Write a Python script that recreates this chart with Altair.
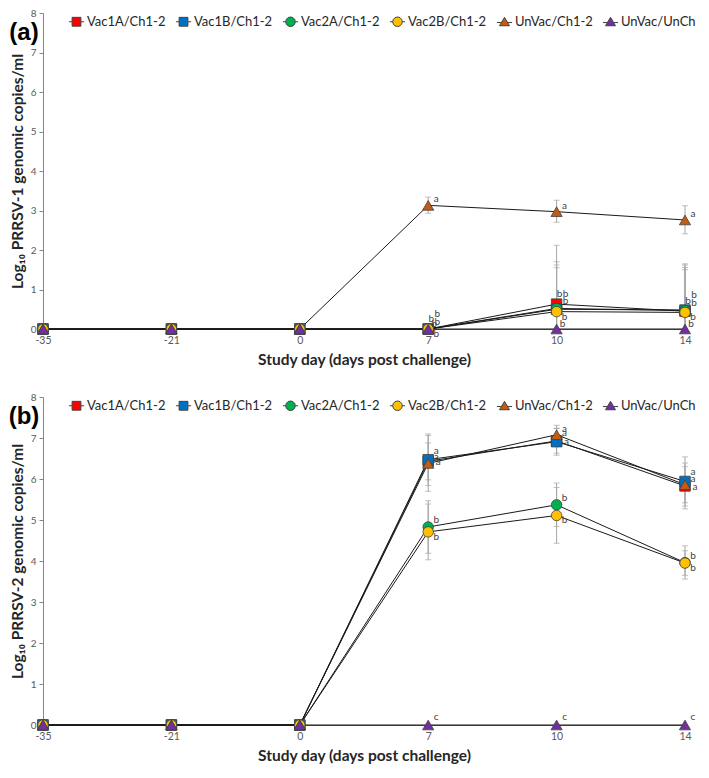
import altair as alt
import pandas as pd

DAYS = ["-35", "-21", "0", "7", "10", "14"]
SERIES = ["Vac1A/Ch1-2", "Vac1B/Ch1-2", "Vac2A/Ch1-2", "Vac2B/Ch1-2", "UnVac/Ch1-2", "UnVac/UnCh"]
COLORS = ["#ff0000", "#0070c0", "#00b050", "#ffc000", "#c55a11", "#7030a0"]
SHAPES = ["square", "square", "circle", "circle", "triangle-up", "triangle-up"]

# ---- Panel (a): PRRSV-1 ----
A_VAC1A = [0, 0, 0, 0, 0.63, 0.45]
A_VAC1B = [0, 0, 0, 0, 0.50, 0.48]
A_VAC2A = [0, 0, 0, 0, 0.52, 0.47]
A_VAC2B = [0, 0, 0, 0, 0.44, 0.42]
A_UNVAC_CH = [0, 0, 0, 3.13, 2.97, 2.76]
A_UNVAC_UNCH = [0, 0, 0, 0, 0, 0]

A_VAC1A_LO = [None, None, None, None, 0, 0]
A_VAC1A_HI = [None, None, None, None, 2.12, 1.65]
A_VAC1B_LO = [None, None, None, None, 0, 0]
A_VAC1B_HI = [None, None, None, None, 1.70, 1.62]
A_VAC2A_LO = [None, None, None, None, 0, 0]
A_VAC2A_HI = [None, None, None, None, 1.62, 1.56]
A_VAC2B_LO = [None, None, None, None, 0, 0]
A_VAC2B_HI = [None, None, None, None, 1.55, 1.50]
A_UNVAC_CH_LO = [None, None, None, 2.93, 2.70, 2.41]
A_UNVAC_CH_HI = [None, None, None, 3.34, 3.26, 3.12]
A_UNVAC_UNCH_LO = [None] * 6
A_UNVAC_UNCH_HI = [None] * 6

A_LET_VAC = ["", "", "", "b", "b", "b"]
A_LET_UNVAC_CH = ["", "", "", "a", "a", "a"]
A_LET_UNVAC_UNCH = ["", "", "", "b", "b", "b"]

# ---- Panel (b): PRRSV-2 ----
B_VAC1A = [0, 0, 0, 6.43, 6.93, 5.83]
B_VAC1B = [0, 0, 0, 6.47, 6.91, 5.94]
B_VAC2A = [0, 0, 0, 4.83, 5.37, 3.96]
B_VAC2B = [0, 0, 0, 4.71, 5.11, 3.95]
B_UNVAC_CH = [0, 0, 0, 6.38, 7.08, 5.86]
B_UNVAC_UNCH = [0, 0, 0, 0, 0, 0]

B_VAC1A_LO = [None, None, None, 5.98, 6.63, 5.27]
B_VAC1A_HI = [None, None, None, 6.88, 7.23, 6.39]
B_VAC1B_LO = [None, None, None, 5.84, 6.58, 5.34]
B_VAC1B_HI = [None, None, None, 7.10, 7.24, 6.54]
B_VAC2A_LO = [None, None, None, 4.19, 4.84, 3.56]
B_VAC2A_HI = [None, None, None, 5.47, 5.90, 4.37]
B_VAC2B_LO = [None, None, None, 4.03, 4.43, 3.65]
B_VAC2B_HI = [None, None, None, 5.39, 5.79, 4.25]
B_UNVAC_CH_LO = [None, None, None, 5.70, 6.85, 5.42]
B_UNVAC_CH_HI = [None, None, None, 7.06, 7.31, 6.30]
B_UNVAC_UNCH_LO = [None] * 6
B_UNVAC_UNCH_HI = [None] * 6

B_LET_A = ["", "", "", "a", "a", "a"]
B_LET_B = ["", "", "", "b", "b", "b"]
B_LET_C = ["", "", "", "c", "c", "c"]

# ---- styling (not data) ----
SQ = "M-0.95,0H-0.55M0.55,0H0.95M-0.55,-0.55H0.55V0.55H-0.55Z"
CI = ("M-0.95,0H-0.6M0.6,0H0.95M-0.6,0L-0.52,-0.3L-0.3,-0.52L0,-0.6L0.3,-0.52L0.52,-0.3"
      "L0.6,0L0.52,0.3L0.3,0.52L0,0.6L-0.3,0.52L-0.52,0.3Z")
TR = "M-0.95,0.1H-0.38M0.38,0.1H0.95M0,-0.55L0.62,0.5H-0.62Z"
LEGEND_PATHS = [SQ, SQ, CI, CI, TR, TR]
A_OFFSETS = [(3, -10), (9, -15), (9, -7), (8, 5), (8, -6), (6, -5)]
B_OFFSETS = [(10, 1), (8, -9), (8, -7), (8, 5), (8, -6), (8, -8)]
FONT = "Lato"
W = 642


def build(means, los, his, letters):
    rows = []
    for s, m, lo, hi, lt in zip(SERIES, means, los, his, letters):
        for i, (d, v, l, h, t) in enumerate(zip(DAYS, m, lo, hi, lt)):
            rows.append(dict(series=s, day=d, di=i, value=v, lo=l, hi=h, letter=t))
    return pd.DataFrame(rows)


def panel(df, offsets, ytitle, tag, height):
    x_axis = alt.Axis(title="Study day (days post challenge)", labelAngle=0, ticks=False,
                      domainColor="#595959", labelFontSize=10.5, labelColor="#595959",
                      titleFontSize=15.5, titleFontWeight="bold", titleColor="#262626",
                      titlePadding=7, labelPadding=6, grid=False, labelFont=FONT, titleFont=FONT)
    y_axis = alt.Axis(title=ytitle, values=list(range(9)), format="d", grid=False,
                      domainColor="#868686", tickColor="#868686", tickSize=4,
                      labelFontSize=10, labelColor="#595959", titleFontSize=15.5,
                      titleFontWeight="bold", titleColor="#262626", titlePadding=5,
                      labelPadding=3, labelFont=FONT, titleFont=FONT)
    xs = alt.Scale(type="point", padding=0)
    ys = alt.Scale(domain=[0, 8], nice=False)
    X = alt.X("day:N", sort=DAYS, scale=xs, axis=x_axis)

    def Y(f):
        return alt.Y(f, scale=ys, axis=y_axis, title=ytitle)

    base = alt.Chart(df)
    bars = base.transform_filter("isValid(datum.hi)").mark_rule(
        color="#a6a6a6", strokeWidth=1).encode(x=X, y=Y("lo:Q"), y2="hi:Q")
    caps_hi = base.transform_filter("isValid(datum.hi)").mark_tick(
        color="#a6a6a6", thickness=1, size=6).encode(x=X, y=Y("hi:Q"))
    caps_lo = base.transform_filter("isValid(datum.lo) && datum.lo > 0").mark_tick(
        color="#a6a6a6", thickness=1, size=6).encode(x=X, y=Y("lo:Q"))
    lines = base.mark_line(color="#1a1a1a", strokeWidth=1).encode(
        x=X, y=Y("value:Q"), detail="series:N", order="di:Q")
    layers = [bars, caps_hi, caps_lo, lines]
    for s, c, sh in zip(SERIES, COLORS, SHAPES):
        layers.append(
            base.transform_filter(alt.datum.series == s).mark_point(
                shape=sh, filled=True, fill=c, stroke="#404040", strokeWidth=0.8,
                size=110 if sh != "triangle-up" else 125, opacity=1
            ).encode(x=X, y=Y("value:Q"))
        )
    for s, (dx, dy) in zip(SERIES, offsets):
        layers.append(
            base.transform_filter((alt.datum.series == s) & (alt.datum.letter != "")).mark_text(
                dx=dx, dy=dy, fontSize=10, font=FONT, color="#404040", align="center",
                baseline="middle"
            ).encode(x=X, y=Y("value:Q"), text="letter:N")
        )
    leg = alt.Legend(orient="none", legendX=25, legendY=0, direction="horizontal", columns=6,
                     title=None, symbolSize=256, labelFontSize=13, labelFont=FONT,
                     labelColor="#262626", columnPadding=7, labelOffset=2,
                     symbolStrokeColor="#404040", symbolStrokeWidth=1)
    legend_layer = base.transform_filter("false").mark_point(
        filled=True, size=256, strokeWidth=1, opacity=1
    ).encode(
        x=X, y=Y("value:Q"),
        fill=alt.Fill("series:N", scale=alt.Scale(domain=SERIES, range=COLORS), legend=leg),
        stroke=alt.Stroke("series:N", scale=alt.Scale(domain=SERIES, range=["#404040"] * 6),
                          legend=leg),
        shape=alt.Shape("series:N", scale=alt.Scale(domain=SERIES, range=LEGEND_PATHS), legend=leg),
    )
    layers.append(legend_layer)
    tag_layer = alt.Chart(pd.DataFrame({"t": [tag]})).mark_text(
        fontSize=24, fontWeight="bold", font="Liberation Sans", color="#000000", align="center",
        baseline="middle").encode(text="t:N", x=alt.value(-19), y=alt.value(20))
    layers.append(tag_layer)
    return alt.layer(*layers).properties(width=W, height=height)


df_a = build(
    [A_VAC1A, A_VAC1B, A_VAC2A, A_VAC2B, A_UNVAC_CH, A_UNVAC_UNCH],
    [A_VAC1A_LO, A_VAC1B_LO, A_VAC2A_LO, A_VAC2B_LO, A_UNVAC_CH_LO, A_UNVAC_UNCH_LO],
    [A_VAC1A_HI, A_VAC1B_HI, A_VAC2A_HI, A_VAC2B_HI, A_UNVAC_CH_HI, A_UNVAC_UNCH_HI],
    [A_LET_VAC, A_LET_VAC, A_LET_VAC, A_LET_VAC, A_LET_UNVAC_CH, A_LET_UNVAC_UNCH],
)
df_b = build(
    [B_VAC1A, B_VAC1B, B_VAC2A, B_VAC2B, B_UNVAC_CH, B_UNVAC_UNCH],
    [B_VAC1A_LO, B_VAC1B_LO, B_VAC2A_LO, B_VAC2B_LO, B_UNVAC_CH_LO, B_UNVAC_UNCH_LO],
    [B_VAC1A_HI, B_VAC1B_HI, B_VAC2A_HI, B_VAC2B_HI, B_UNVAC_CH_HI, B_UNVAC_UNCH_HI],
    [B_LET_A, B_LET_A, B_LET_B, B_LET_B, B_LET_A, B_LET_C],
)

pa = panel(df_a, A_OFFSETS, "Log\u2081\u2080 PRRSV-1 genomic copies/ml", "(a)", 316)
pb = panel(df_b, B_OFFSETS, "Log\u2081\u2080 PRRSV-2 genomic copies/ml", "(b)", 328)

chart = alt.vconcat(pa, pb, spacing=24).resolve_scale(
    fill="independent", shape="independent", stroke="independent"
).resolve_legend(
    fill="independent", shape="independent", stroke="independent"
).properties(
    padding=0, background="white"
).configure_view(stroke=None)

chart.save("out.html", embed_options={"renderer": "svg", "actions": False})
